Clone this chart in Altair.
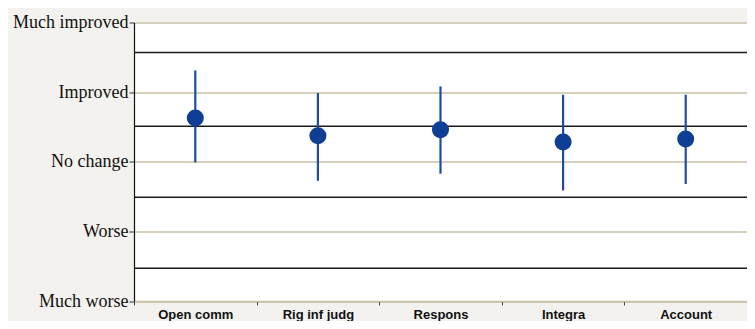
import altair as alt
import pandas as pd

categories = ["Open comm", "Rig inf judg", "Respons", "Integra", "Account"]
means = [0.628, 0.374, 0.460, 0.283, 0.326]
lows = [-0.01, -0.273, -0.172, -0.412, -0.320]
highs = [1.312, 0.987, 1.082, 0.963, 0.963]

level_values = [-2, -1, 0, 1, 2]
level_labels = ["Much worse", "Worse", "No change", "Improved", "Much improved"]
separators = [1.57, 0.51, -0.51, -1.53]

df = pd.DataFrame({"cat": categories, "mean": means, "low": lows, "high": highs})
sep_df = pd.DataFrame({"v": separators})

label_expr = "{" + ",".join(f"'{v}':'{l}'" for v, l in zip(level_values, level_labels)) + "}[datum.value]"

x = alt.X("cat:N", sort=categories, title=None,
          scale=alt.Scale(paddingInner=0, paddingOuter=0),
          axis=alt.Axis(labelAngle=0, tickBand="extent", labelFont="Liberation Sans",
                        labelFontWeight="bold", labelFontSize=13, labelColor="#111111",
                        labelPadding=3, tickSize=4, tickColor="#444444",
                        domainColor="#c9bfa8", domainWidth=1.5, grid=False))

yscale = alt.Scale(domain=[-2, 2], nice=False, zero=False)

base_y_axis = alt.Axis(values=level_values, labelExpr=label_expr, title=None,
                       labelFont="Liberation Serif", labelFontSize=18, labelColor="#111111",
                       labelPadding=1, tickSize=5, tickColor="#333333",
                       domainColor="#111111", domainWidth=1.2,
                       grid=True, gridColor="#c9bfa8", gridWidth=1.5)

seps = alt.Chart(sep_df).mark_rule(color="#1a1a1a", strokeWidth=1.6).encode(
    y=alt.Y("v:Q", scale=yscale, axis=base_y_axis)
)

bars = alt.Chart(df).mark_rule(color="#1f4c9e", strokeWidth=2.2).encode(
    x=x,
    y=alt.Y("low:Q", scale=yscale),
    y2="high:Q",
)

points = alt.Chart(df).mark_circle(color="#0f3f94", opacity=1, size=290).encode(
    x=x,
    y=alt.Y("mean:Q", scale=yscale),
)

chart = alt.layer(seps, bars, points).properties(
    width=613, height=278.5,
    autosize=alt.AutoSizeParams(type="none"),
    padding={"left": 126, "top": 14.5, "right": 0, "bottom": 20},
    background="#f3f2ee",
).configure_view(fill="white", stroke=None)

chart.save("out.html", embed_options={"renderer": "svg", "actions": False})
